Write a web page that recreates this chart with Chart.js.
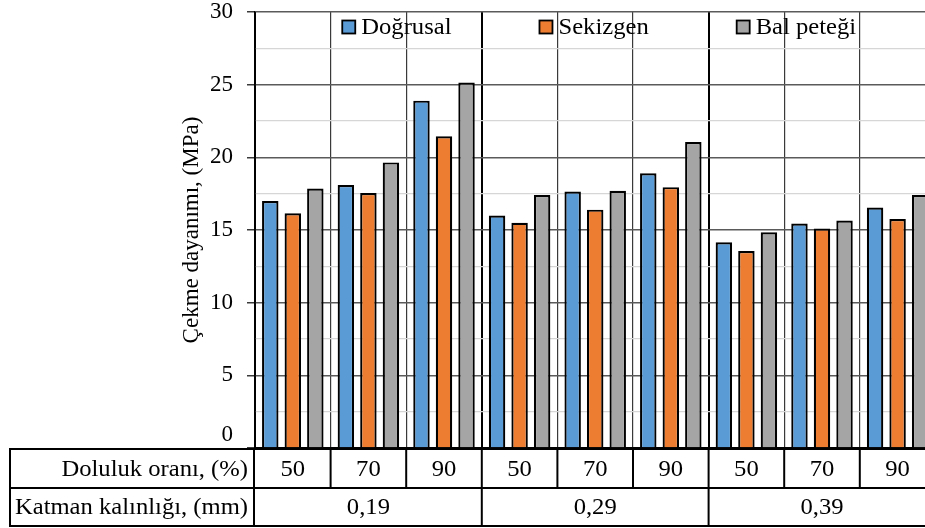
<!DOCTYPE html>
<html lang="tr">
<head>
<meta charset="utf-8">
<title>Çekme dayanımı</title>
<script src="https://cdn.jsdelivr.net/npm/chart.js@4/dist/chart.umd.min.js"></script>
<style>
  html, body { margin: 0; padding: 0; background: #fff; overflow: hidden; }
  #wrap { position: absolute; left: 0; top: 0; width: 940px; height: 528px; }
</style>
</head>
<body>
<div id="wrap"><canvas id="chart"></canvas></div>
<script>
// Doluluk oranı (%) for every bar group, and the katman kalınlığı (mm) blocks
const fillRatios = ['50', '70', '90', '50', '70', '90', '50', '70', '90'];
const layerThickness = ['0,19', '0,29', '0,39'];

// Çekme dayanımı (MPa) per infill pattern
const dogrusal  = [17.0, 18.1, 23.9, 16.0, 17.65, 18.9, 14.15, 15.45, 16.55];
const sekizgen  = [16.15, 17.55, 21.45, 15.5, 16.4, 17.95, 13.55, 15.1, 15.75];
const balPetegi = [17.85, 19.65, 25.15, 17.4, 17.7, 21.05, 14.85, 15.65, 17.4];

const seriesNames = ['Doğrusal', 'Sekizgen', 'Bal peteği'];
const seriesColors = ['#5B9BD5', '#ED7D31', '#A5A5A5'];

const FONT = '"Liberation Serif", "Times New Roman", serif';
const TEXT_SIZE = 23;
const WIDEN = 1.07; // lettering in the table and legend is a touch wider

function stretchedText(ctx, text, x, y, align) {
  ctx.save();
  ctx.font = TEXT_SIZE + 'px ' + FONT;
  ctx.fillStyle = '#000';
  ctx.textBaseline = 'middle';
  const w = ctx.measureText(text).width * WIDEN;
  let left = x;
  if (align === 'center') left = x - w / 2;
  else if (align === 'right') left = x - w;
  ctx.translate(left, y);
  ctx.scale(WIDEN, 1);
  ctx.textAlign = 'left';
  ctx.fillText(text, 0, 0);
  ctx.restore();
  return w;
}

function line(ctx, x1, y1, x2, y2, width, color) {
  ctx.save();
  ctx.beginPath();
  ctx.lineWidth = width;
  ctx.strokeStyle = color || '#000';
  ctx.moveTo(x1, y1);
  ctx.lineTo(x2, y2);
  ctx.stroke();
  ctx.restore();
}

// Legend drawn inside the top of the plot, boxes with black outline
const insideLegend = {
  id: 'insideLegend',
  afterDatasetsDraw(chart) {
    const ctx = chart.ctx;
    const area = chart.chartArea;
    const box = 13, gapText = 6, gapItem = 88;
    ctx.save();
    ctx.font = TEXT_SIZE + 'px ' + FONT;
    const widths = chart.data.datasets.map(ds => box + gapText + ctx.measureText(ds.label).width * WIDEN);
    const total = widths.reduce((a, b) => a + b, 0) + gapItem * (widths.length - 1);
    let x = (area.left + area.right) / 2 - total / 2 + 4;
    const yc = area.top + 15;
    chart.data.datasets.forEach((ds, i) => {
      ctx.fillStyle = ds.backgroundColor;
      ctx.fillRect(x, yc - box / 2, box, box);
      ctx.lineWidth = 1.8;
      ctx.strokeStyle = '#000';
      ctx.strokeRect(x, yc - box / 2, box, box);
      stretchedText(ctx, ds.label, x + box + gapText, yc + 1, 'left');
      x += widths[i] + gapItem;
    });
    ctx.restore();
  }
};

// The zero label sits just above the table instead of on the axis line
const zeroLabel = {
  id: 'zeroLabel',
  afterDraw(chart) {
    const ys = chart.scales.y;
    const ctx = chart.ctx;
    ctx.save();
    ctx.font = TEXT_SIZE + 'px ' + FONT;
    ctx.fillStyle = '#000';
    ctx.textAlign = 'right';
    ctx.textBaseline = 'middle';
    ctx.fillText(String(ys.min), ys.right - 8 - 14, ys.getPixelForValue(ys.min) - 13);
    ctx.restore();
  }
};

// Two-row table under the x axis: doluluk oranı and katman kalınlığı
const axisTable = {
  id: 'axisTable',
  afterDraw(chart) {
    const ctx = chart.ctx;
    const xs = chart.scales.x;
    const area = chart.chartArea;
    const n = fillRatios.length;
    const step = (xs.getPixelForValue(1) - xs.getPixelForValue(0));
    const edge = i => xs.getPixelForValue(0) - step / 2 + i * step;
    const top = area.bottom + 1;
    const mid = top + 39;
    const bottom = top + 77;
    const leftEdge = 10;
    const rightEdge = chart.width;
    const labelRight = area.left - 1;

    // horizontal rules
    line(ctx, leftEdge - 1, top, rightEdge, top, 2);
    line(ctx, leftEdge, mid, rightEdge, mid, 2);
    line(ctx, leftEdge - 1, bottom, rightEdge, bottom, 2);
    // outer left and label column divider
    line(ctx, leftEdge, top, leftEdge, bottom, 2);
    line(ctx, labelRight, top, labelRight, bottom, 2);
    // first row: one cell per bar group
    for (let i = 1; i <= n; i++) line(ctx, edge(i), top, edge(i), mid, 2);
    // second row: one cell per layer thickness
    const per = n / layerThickness.length;
    for (let g = 1; g <= layerThickness.length; g++) line(ctx, edge(g * per), mid, edge(g * per), bottom, 2);

    stretchedText(ctx, 'Doluluk oranı, (%)', labelRight - 6, (top + mid) / 2 + 1, 'right');
    stretchedText(ctx, 'Katman kalınlığı, (mm)', labelRight - 6, (mid + bottom) / 2 + 1, 'right');
    fillRatios.forEach((t, i) => stretchedText(ctx, t, xs.getPixelForValue(i), (top + mid) / 2 + 1, 'center'));
    layerThickness.forEach((t, g) => {
      const cx = (edge(g * per) + edge((g + 1) * per)) / 2;
      stretchedText(ctx, t, cx, (mid + bottom) / 2 + 1, 'center');
    });
  }
};

const isMajor = v => Math.abs(v / 5 - Math.round(v / 5)) < 1e-6;

new Chart(document.getElementById('chart'), {
  type: 'bar',
  data: {
    labels: fillRatios,
    datasets: [dogrusal, sekizgen, balPetegi].map((vals, i) => ({
      label: seriesNames[i],
      data: vals,
      backgroundColor: seriesColors[i],
      borderColor: '#000',
      borderWidth: 2.2,
      categoryPercentage: 0.894,
      barPercentage: 0.73
    }))
  },
  options: {
    responsive: true,
    maintainAspectRatio: false,
    animation: false,
    devicePixelRatio: 1,
    layout: { padding: { left: 168, top: 12, right: 4.6, bottom: 80 } },
    plugins: {
      legend: { display: false },
      tooltip: { enabled: false }
    },
    scales: {
      x: {
        ticks: { display: false },
        grid: {
          offset: true,
          drawTicks: false,
          color: ctx => (ctx.index !== undefined && ctx.index % 3 === 0) ? '#000' : '#3a3a3a',
          lineWidth: ctx => (ctx.index !== undefined && ctx.index % 3 === 0) ? 2 : 1.2
        },
        border: { color: '#000', width: 2 }
      },
      y: {
        min: 0,
        max: 30,
        afterFit(scale) {
          scale.width = 255 - 168;
          scale.paddingTop = 0;
          scale.paddingBottom = 0;
        },
        ticks: {
          stepSize: 2.5,
          autoSkip: false,
          padding: 14,
          color: '#000',
          font: { family: FONT, size: TEXT_SIZE },
          callback: v => (isMajor(v) && v !== 0) ? String(v) : ''
        },
        grid: {
          tickLength: 8,
          color: ctx => isMajor(ctx.tick.value) ? '#5a5a5a' : '#d6d6d6',
          lineWidth: ctx => isMajor(ctx.tick.value) ? 1.5 : 1.2,
          tickColor: ctx => isMajor(ctx.tick.value) ? '#3a3a3a' : 'rgba(0,0,0,0)',
          tickWidth: 1.5
        },
        border: { color: '#000', width: 1.6 },
        title: {
          display: true,
          text: 'Çekme dayanımı, (MPa)',
          color: '#000',
          font: { family: FONT, size: 23, weight: 'normal' },
          padding: { top: 10, bottom: 0 }
        }
      }
    }
  },
  plugins: [insideLegend, axisTable, zeroLabel]
});
</script>
</body>
</html>
